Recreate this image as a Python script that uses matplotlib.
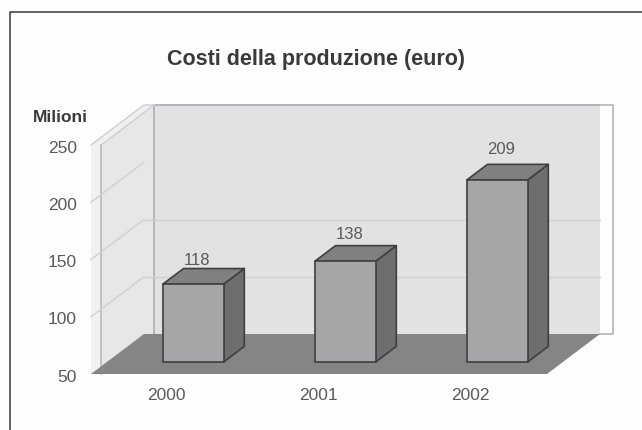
import matplotlib
matplotlib.use("Agg")
import matplotlib.pyplot as plt
from matplotlib.patches import Polygon

plt.rcParams['font.family'] = ['Liberation Sans', 'DejaVu Sans']

title = "Costi della produzione (euro)"
unit_label = "Milioni"
categories = ["2000", "2001", "2002"]
values = [118, 138, 209]
y_ticks = [50, 100, 150, 200, 250]
label_pads = [1, 3, 6]

W, H = 642, 431
PX_PER_CAT = 152.0
PX_PER_VAL = 1.145
X0_PX = 167.0
Y0_PX = 375.0
DX = 53 / PX_PER_CAT
DY = 40 / PX_PER_VAL
BAR_D = 0.3
BAR_DEPTH = 0.39
BAR_HALF = 0.2
BAR_SHIFT = 0.068

fig = plt.figure(figsize=(W / 100, H / 100), dpi=100, facecolor="#fdfdfd")
ax = fig.add_axes([0, 0, 1, 1])
ax.set_xlim(-X0_PX / PX_PER_CAT, (W - X0_PX) / PX_PER_CAT)
ax.set_ylim(y_ticks[0] - (H - Y0_PX) / PX_PER_VAL, y_ticks[0] + Y0_PX / PX_PER_VAL)
ax.axis("off")


def P(c, v, d=0.0):
    return (c + d * DX, v + d * DY)


x_l, x_r = -0.5, len(categories) - 0.5
v_lo, v_hi = y_ticks[0], y_ticks[-1]
wall = "#e1e2e4"
side = "#e6e7e8"
strip = "#f1f1f2"
grid = "#cfd0d2"
edge_w = "#b4b5b7"
px = 1 / PX_PER_CAT
wall_thick = 10 * px

# back wall
ax.add_patch(Polygon([P(x_l + wall_thick, v_lo, 1), P(x_r, v_lo, 1), P(x_r, v_hi, 1), P(x_l + wall_thick, v_hi, 1)],
                     fc=wall, ec="none", zorder=1))
ax.plot(*zip(P(x_r, v_hi, 1), P(x_r + 13 * px, v_hi, 1), P(x_r + 13 * px, v_lo, 1), P(x_r, v_lo, 1)),
        color=edge_w, lw=1.2, zorder=1)
ax.plot(*zip(P(x_l + wall_thick, v_lo, 1), P(x_l + wall_thick, v_hi, 1), P(x_r, v_hi, 1)),
        color=edge_w, lw=1.4, zorder=2)
# side wall with its light outer strip
ax.add_patch(Polygon([P(x_l, v_hi, 0), P(x_l, v_hi, 1), P(x_l + wall_thick, v_hi, 1),
                      P(x_l + wall_thick, v_hi, 0), P(x_l + wall_thick, v_lo, 0), P(x_l, v_lo, 0)],
                     fc=strip, ec="none", zorder=1))
ax.add_patch(Polygon([P(x_l + wall_thick, v_hi, 0), P(x_l + wall_thick, v_hi, 1),
                      P(x_l + wall_thick, v_lo, 1), P(x_l + wall_thick, v_lo, 0)],
                     fc=side, ec="none", zorder=1))
ax.plot(*zip(P(x_l, v_hi, 0), P(x_l, v_hi, 1), P(x_l + wall_thick, v_hi, 1)), color="#d0d1d3", lw=1.1, zorder=2)
ax.plot(*zip(P(x_l + wall_thick, v_hi, 0), P(x_l + wall_thick, v_hi, 1)), color="#d0d1d3", lw=1.1, zorder=2)
ax.plot(*zip(P(x_l + wall_thick, v_lo, 0), P(x_l + wall_thick, v_hi, 0)), color=edge_w, lw=1.1, zorder=2)
# gridlines
for t in y_ticks[1:-1]:
    ax.plot(*zip(P(x_l, t, 0), P(x_l, t, 1)), color=grid, lw=1.0, zorder=2)
    if t != 200:
        ax.plot(*zip(P(x_l, t, 1), P(x_r, t, 1)), color=grid, lw=1.0, zorder=2)
# floor
ax.add_patch(Polygon([P(x_l, v_lo, 0), P(x_r, v_lo, 0), P(x_r, v_lo, 1), P(x_l, v_lo, 1)],
                     fc="#858585", ec="none", zorder=3))

# bars
for i, (v, pad) in enumerate(zip(values, label_pads)):
    c = i + BAR_SHIFT
    l, r = c - BAR_HALF, c + BAR_HALF
    d0, d1 = BAR_D, BAR_D + BAR_DEPTH
    kw = dict(ec="#3f3f41", lw=1.2, joinstyle="round", zorder=4)
    ax.add_patch(Polygon([P(r, v_lo, d0), P(r, v_lo, d1), P(r, v, d1), P(r, v, d0)], fc="#6d6e70", **kw))
    ax.add_patch(Polygon([P(l, v, d0), P(r, v, d0), P(r, v, d1), P(l, v, d1)], fc="#7f8082", **kw))
    ax.add_patch(Polygon([P(l, v_lo, d0), P(r, v_lo, d0), P(r, v, d0), P(l, v, d0)], fc="#a5a6a8", **kw))
    tx, ty = P(c, v, d1)
    ax.annotate(str(v), (tx, ty), xytext=(-12, pad), textcoords="offset points", ha="center", va="bottom",
                fontsize=12, color="#5a5a5a", zorder=5)

# y tick labels
for t in y_ticks:
    tx, ty = P(x_l, t)
    ax.annotate(str(t), (tx, ty), xytext=(-10, -1.5), textcoords="offset points", ha="right", va="center",
                fontsize=12.5, color="#5a5a5a")
ax.annotate(unit_label, P(x_l, v_hi), xytext=(-2, 20.5), textcoords="offset points", ha="right", va="center",
            fontsize=12.5, fontweight="bold", color="#3a3a3a")

# x tick labels
for i, lab in enumerate(categories):
    ax.annotate(lab, P(i, v_lo), xytext=(-0.5, -14.5), textcoords="offset points", ha="center", va="center",
                fontsize=12.5, color="#5a5a5a")

ax.text(316 / W, 1 - 60 / H, title, transform=ax.transAxes, ha="center", va="center",
        fontsize=15.5, fontweight="bold", color="#3a3a3a")

# picture frame: left and top edges
ax.plot([10 / W, 10 / W, 1], [0, 1 - 13 / H, 1 - 13 / H], transform=ax.transAxes,
        color="#3a3a3a", lw=1.1, clip_on=False)

fig.savefig("out.png", dpi=100, facecolor=fig.get_facecolor())
